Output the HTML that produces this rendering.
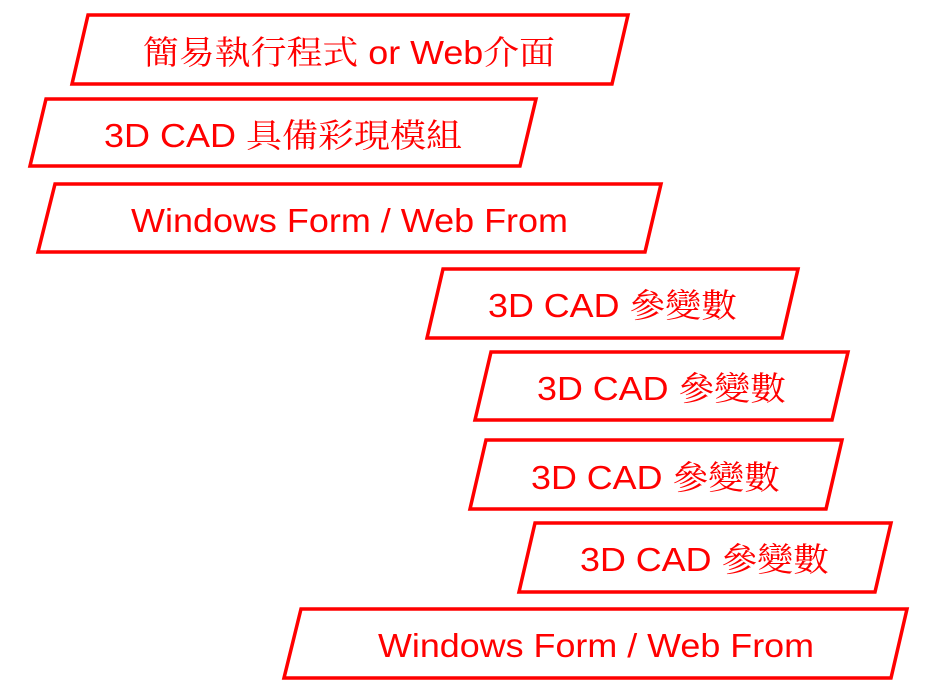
<!DOCTYPE html>
<html><head><meta charset="utf-8"><style>
html,body{margin:0;padding:0;background:#fff;}
svg{display:block}
text{fill:#ff0000;font-family:"Liberation Sans","Noto Serif CJK SC",serif;font-size:33px;}
</style></head><body>
<svg width="935" height="695" viewBox="0 0 935 695" xmlns="http://www.w3.org/2000/svg">
<g fill="none" stroke="#ff0000" stroke-width="3.5" stroke-linejoin="miter">
<polygon points="88,15 628,15 612,84 72,84"/>
<polygon points="46,99 536,99 520,166 30,166"/>
<polygon points="55,184 661,184 645,252 38,252"/>
<polygon points="443,269 798,269 782,338 427,338"/>
<polygon points="491,352 848,352 832,420 475,420"/>
<polygon points="486,440 842,440 826,509 470,509"/>
<polygon points="535,523 891,523 875,592 519,592"/>
<polygon points="301,609 907,609 891,678 284,678"/>
</g>
<text x="143" y="64" textLength="412" lengthAdjust="spacingAndGlyphs">簡易執行程式 or Web介面</text>
<text x="104" y="147" textLength="358" lengthAdjust="spacingAndGlyphs">3D CAD 具備彩現模組</text>
<text x="131" y="232" textLength="437" lengthAdjust="spacingAndGlyphs">Windows Form / Web From</text>
<text x="488" y="317" textLength="249" lengthAdjust="spacingAndGlyphs">3D CAD 參變數</text>
<text x="537" y="400" textLength="249" lengthAdjust="spacingAndGlyphs">3D CAD 參變數</text>
<text x="531" y="489" textLength="249" lengthAdjust="spacingAndGlyphs">3D CAD 參變數</text>
<text x="580" y="571" textLength="249" lengthAdjust="spacingAndGlyphs">3D CAD 參變數</text>
<text x="378" y="657" textLength="436" lengthAdjust="spacingAndGlyphs">Windows Form / Web From</text>
</svg>
</body></html>
